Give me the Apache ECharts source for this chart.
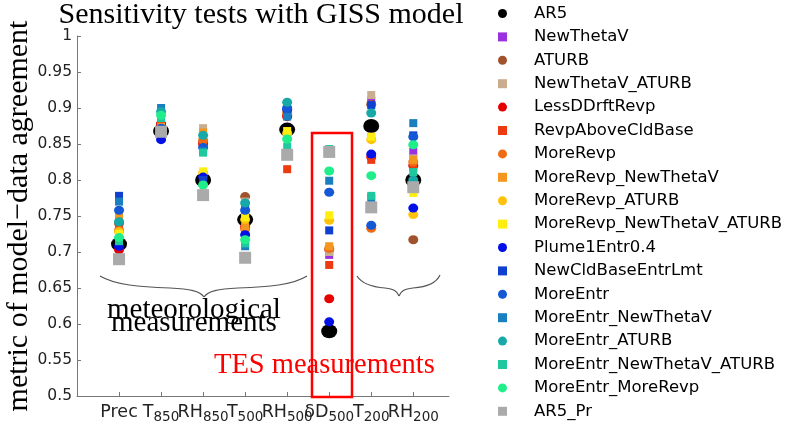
<!DOCTYPE html>
<html><head><meta charset="utf-8">
<script src="https://cdn.jsdelivr.net/npm/echarts@6/dist/echarts.min.js"></script>
<style>html,body{margin:0;padding:0;background:#fff}#c{width:806px;height:431px}</style>
</head><body><div id="c"></div>
<script>
// categories (x positions 1..8)
const categories = ['Prec','T850','RH850','T500','RH500','δD500','T200','RH200'];
const labelMain = ['Prec','T','RH','T','RH','δD','T','RH'];
const labelSub  = ['','850','850','500','500','500','200','200'];
const yTickValues = [0.5,0.55,0.6,0.65,0.7,0.75,0.8,0.85,0.9,0.95,1];

// series values, one per category
const AR5                      = [0.711,0.868,0.800,0.745,0.870,0.590,0.875,0.800];
const NewThetaV                = [0.730,0.875,0.850,0.755,0.895,0.696,0.910,0.839];
const ATURB                    = [0.740,0.878,0.853,0.777,0.890,0.703,0.905,0.717];
const NewThetaV_ATURB          = [0.745,0.880,0.872,0.770,0.892,0.700,0.918,0.830];
const LessDDrftRevp            = [0.703,0.878,0.850,0.735,0.888,0.635,0.832,0.820];
const RevpAboveCldBase         = [0.730,0.876,0.852,0.733,0.815,0.682,0.828,0.818];
const MoreRevp                 = [0.730,0.872,0.855,0.732,0.893,0.705,0.733,0.825];
const MoreRevp_NewThetaV       = [0.750,0.874,0.866,0.735,0.894,0.708,0.860,0.828];
const MoreRevp_ATURB           = [0.728,0.862,0.810,0.745,0.865,0.744,0.856,0.752];
const MoreRevp_NewThetaV_ATURB = [0.725,0.864,0.812,0.748,0.868,0.751,0.860,0.782];
const Plume1Entr04             = [0.708,0.856,0.804,0.724,0.898,0.603,0.836,0.761];
const NewCldBaseEntrLmt        = [0.778,0.870,0.800,0.760,0.896,0.730,0.904,0.862];
const MoreEntr                 = [0.758,0.872,0.845,0.758,0.900,0.783,0.737,0.860];
const MoreEntr_NewThetaV       = [0.770,0.900,0.840,0.708,0.888,0.799,0.775,0.879];
const MoreEntr_ATURB           = [0.742,0.895,0.862,0.768,0.908,0.840,0.893,0.800];
const MoreEntr_NewThetaV_ATURB = [0.715,0.886,0.838,0.712,0.846,0.843,0.778,0.811];
const MoreEntr_MoreRevp        = [0.720,0.890,0.793,0.717,0.857,0.8125,0.806,0.849];
const AR5_Pr                   = [0.690,0.867,0.779,0.692,0.835,0.839,0.762,0.790];

const seriesDefs = [
  ['AR5', AR5, '#000000', 'circle', [16,14]],
  ['NewThetaV', NewThetaV, '#9b30e0', 'rect', [8,8]],
  ['ATURB', ATURB, '#a0522d', 'circle', [10,9]],
  ['NewThetaV_ATURB', NewThetaV_ATURB, '#c9ad8e', 'rect', [8,8]],
  ['LessDDrftRevp', LessDDrftRevp, '#e60000', 'circle', [10,9]],
  ['RevpAboveCldBase', RevpAboveCldBase, '#ee3a10', 'rect', [8,8]],
  ['MoreRevp', MoreRevp, '#f06a14', 'circle', [10,9]],
  ['MoreRevp_NewThetaV', MoreRevp_NewThetaV, '#f5961e', 'rect', [8,8]],
  ['MoreRevp_ATURB', MoreRevp_ATURB, '#ffc20a', 'circle', [10,9]],
  ['MoreRevp_NewThetaV_ATURB', MoreRevp_NewThetaV_ATURB, '#ffee10', 'rect', [8,8]],
  ['Plume1Entr0.4', Plume1Entr04, '#0010e6', 'circle', [10,9]],
  ['NewCldBaseEntrLmt', NewCldBaseEntrLmt, '#1040d0', 'rect', [8,8]],
  ['MoreEntr', MoreEntr, '#1458d6', 'circle', [10,9]],
  ['MoreEntr_NewThetaV', MoreEntr_NewThetaV, '#1a7fc0', 'rect', [8,8]],
  ['MoreEntr_ATURB', MoreEntr_ATURB, '#17a8a8', 'circle', [10,9]],
  ['MoreEntr_NewThetaV_ATURB', MoreEntr_NewThetaV_ATURB, '#20c8a0', 'rect', [8,8]],
  ['MoreEntr_MoreRevp', MoreEntr_MoreRevp, '#20ee8a', 'circle', [10,9]],
  ['AR5_Pr', AR5_Pr, '#aaaaaa', 'rect', [12,12]]
];

const chart = echarts.init(document.getElementById('c'), null, {renderer:'canvas'});
const catPos = categories.map((c,i)=>i+1);
const X_MAX = 8.85;

function bez(p) {
  return {type:'bezierCurve', shape:{x1:p[0],y1:p[1],cpx1:p[2],cpy1:p[3],cpx2:p[4],cpy2:p[5],x2:p[6],y2:p[7]},
          style:{stroke:'#555', lineWidth:1.2, fill:null}};
}

const option = {
  animation: false,
  backgroundColor: '#fff',
  title: {
    text: 'Sensitivity tests with GISS model',
    left: 261, top: 0, padding: 0, textAlign: 'center',
    textStyle: {fontFamily: '"Liberation Serif"', fontSize: 30, fontWeight: 'normal', color: '#000'}
  },
  legend: {
    orient: 'vertical', left: 498, top: 4, padding: 0,
    itemWidth: 9, itemHeight: 9, itemGap: 4.4,
    textStyle: {fontFamily: '"DejaVu Sans"', fontSize: 16.5, color: '#000', padding: [0,0,0,22], height: 19, lineHeight: 19},
    data: seriesDefs.map(d=>({name: d[0], icon: d[3] === 'rect' ? 'path://M1,1L8,1L8,8L1,8Z' : 'circle'}))
  },
  grid: {left: 77, right: 357, top: 36, bottom: 35},
  xAxis: {
    type: 'value', min: 0, max: X_MAX, interval: 1,
    splitLine: {show: false},
    axisLine: {show: true, lineStyle: {color: '#777', width: 1}},
    axisTick: {show: true, inside: true, length: 4, lineStyle: {color: '#777'}, customValues: catPos},
    axisLabel: {
      customValues: [0].concat(catPos, [X_MAX]), margin: 6, hideOverlap: false,
      formatter: function(v){
        const i = Math.round(v) - 1;
        if (i < 0 || i >= categories.length || Math.abs(v - Math.round(v)) > 1e-6) return '';
        return '{m|' + labelMain[i] + '}' + (labelSub[i] ? '{s|' + labelSub[i] + '}' : '');
      },
      rich: {
        m: {fontFamily: '"DejaVu Sans"', fontSize: 17.5, color: '#222', verticalAlign: 'bottom', padding: [0,0,3,0], lineHeight: 22},
        s: {fontFamily: '"DejaVu Sans"', fontSize: 13.5, color: '#222', verticalAlign: 'bottom', lineHeight: 22}
      }
    }
  },
  yAxis: {
    type: 'value', min: 0.5, max: 1, interval: 0.05,
    splitLine: {show: false},
    axisLine: {show: true, lineStyle: {color: '#777', width: 1}},
    axisTick: {show: true, inside: true, length: 4, lineStyle: {color: '#777'}},
    axisLabel: {
      fontFamily: '"DejaVu Sans"', fontSize: 15.5, color: '#222', margin: 5,
      formatter: v => String(Math.round(v*100)/100)
    }
  },
  graphic: [
    {type:'text', x: 19, y: 216, rotation: Math.PI/2,
     style:{text:'metric of model\u2212data agreement', font:'30px "Liberation Serif"', fill:'#000', align:'center', verticalAlign:'middle'}},
    {type:'text', x: 107, y: 310,
     style:{text:'meteorological', font:'29px "Liberation Serif"', fill:'#000', align:'left', verticalAlign:'middle'}},
    {type:'text', x: 111, y: 323,
     style:{text:'measurements', font:'29px "Liberation Serif"', fill:'#000', align:'left', verticalAlign:'middle'}},
    {type:'text', x: 214, y: 366,
     style:{text:'TES measurements', font:'28.5px "Liberation Serif"', fill:'#ff0000', align:'left', verticalAlign:'middle'}},
    bez([100,276, 115,285, 140,287, 170,288]),
    bez([170,288, 190,289, 200,291, 204,297]),
    bez([204,297, 208,291, 218,289, 238,288]),
    bez([238,288, 268,287, 293,285, 307,276]),
    bez([357,276, 362,284, 372,287, 385,288]),
    bez([385,288, 394,289, 397,291, 399,296]),
    bez([399,296, 401,291, 404,289, 413,288]),
    bez([413,288, 426,287, 436,284, 440,275]),
    {type:'rect', shape:{x:312, y:133, width:40, height:264},
     style:{stroke:'#ff0000', lineWidth:2.5, fill:null}, z: 100}
  ],
  series: seriesDefs.map(d => ({
    name: d[0], type: 'scatter',
    symbol: d[3], symbolSize: d[4],
    itemStyle: {color: d[2], opacity: 1},
    data: d[1].map((v,i)=>[i+1, v])
  }))
};
chart.setOption(option);
</script></body></html>
